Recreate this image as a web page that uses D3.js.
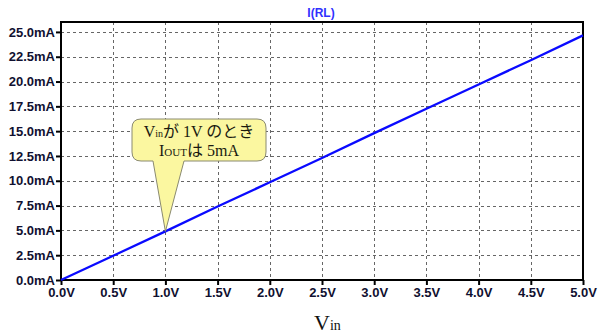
<!DOCTYPE html>
<html><head><meta charset="utf-8">
<script src="https://cdn.jsdelivr.net/npm/d3@7"></script>
<style>body{margin:0;background:#fff}svg{display:block}</style>
</head><body>
<svg id="c" width="600" height="336"></svg>
<script>
const vin = [0, 0.5, 1.0, 1.5, 2.0, 2.5, 3.0, 3.5, 4.0, 4.5, 5.0];
const iout = [0, 2.45, 4.9, 7.4, 9.85, 12.3, 14.8, 17.25, 19.7, 22.15, 24.65];
const yTicks = [0, 2.5, 5, 7.5, 10, 12.5, 15, 17.5, 20, 22.5, 25];
const xTicks = [0, 0.5, 1, 1.5, 2, 2.5, 3, 3.5, 4, 4.5, 5];
const title = "I(RL)";

const svg = d3.select("#c");
const L = 61, R = 583, T = 22, B = 280;
const x = d3.scaleLinear().domain([0, 5]).range([L, R]);
const y = d3.scaleLinear().domain([0, 26]).range([B, T]);

// grid
const g = svg.append("g");
g.selectAll(".vx").data(xTicks.slice(1, -1)).enter().append("line")
  .attr("x1", d => Math.round(x(d)) + 0.5).attr("x2", d => Math.round(x(d)) + 0.5)
  .attr("y1", T).attr("y2", B).attr("stroke", "#666").attr("stroke-dasharray", "3,3");
g.selectAll(".hy").data(yTicks.slice(1)).enter().append("line")
  .attr("y1", d => Math.round(y(d)) + 0.5).attr("y2", d => Math.round(y(d)) + 0.5)
  .attr("x1", L).attr("x2", R).attr("stroke", "#666").attr("stroke-dasharray", "3,3");

// axes
const xAxis = d3.axisBottom(x).tickValues(xTicks).tickFormat(d => d3.format(".1f")(d) + "V").tickSize(5).tickPadding(3);
const yAxis = d3.axisLeft(y).tickValues(yTicks).tickFormat(d => d3.format(".1f")(d) + "mA").tickSize(5).tickPadding(1);
const xa = svg.append("g").attr("transform", `translate(0,${B})`).call(xAxis);
const ya = svg.append("g").attr("transform", `translate(${L},0)`).call(yAxis);
[xa, ya].forEach(a => {
  a.select(".domain").remove();
  a.selectAll(".tick line").attr("stroke", "#000").attr("stroke-width", 2);
  a.selectAll("text").attr("fill", "#101030").style("font-family", "Arial, 'Liberation Sans', sans-serif")
    .style("font-size", "13px").style("font-weight", "bold");
});

// frame
svg.append("rect").attr("x", L).attr("y", T).attr("width", R - L).attr("height", B - T)
  .attr("fill", "none").attr("stroke", "#000").attr("stroke-width", 2);

// line
svg.append("path").datum(vin.map((v, i) => [v, iout[i]]))
  .attr("d", d3.line().x(d => x(d[0])).y(d => y(d[1])))
  .attr("fill", "none").attr("stroke", "#0a0aff").attr("stroke-width", 2.3);

// title
svg.append("text").attr("x", 321).attr("y", 17).attr("text-anchor", "middle")
  .attr("fill", "#3030ff").style("font-family", "Arial, 'Liberation Sans', sans-serif")
  .style("font-size", "12px").style("font-weight", "bold").text(title);

// x label
const xl = svg.append("text").attr("x", 314).attr("y", 330)
  .style("font-family", "'Liberation Serif', 'DejaVu Serif', serif").attr("fill", "#111");
xl.append("tspan").style("font-size", "22px").text("V");
xl.append("tspan").style("font-size", "14px").attr("dy", 0).text("in");

// callout
const tipX = x(1.0), tipY = y(iout[2]);
const bx = 132, by = 119, bw = 134, bh = 42, r = 9;
const p = d3.path();
p.moveTo(bx + r, by);
p.lineTo(bx + bw - r, by); p.quadraticCurveTo(bx + bw, by, bx + bw, by + r);
p.lineTo(bx + bw, by + bh - r); p.quadraticCurveTo(bx + bw, by + bh, bx + bw - r, by + bh);
p.lineTo(184, by + bh); p.lineTo(tipX, tipY); p.lineTo(153, by + bh);
p.lineTo(bx + r, by + bh); p.quadraticCurveTo(bx, by + bh, bx, by + bh - r);
p.lineTo(bx, by + r); p.quadraticCurveTo(bx, by, bx + r, by);
p.closePath();
svg.append("path").attr("d", p.toString()).attr("fill", "#fbf7a0").attr("stroke", "#8a8a70").attr("stroke-width", 1);

const font = "'Liberation Serif', 'Noto Sans CJK JP', serif";
const t1 = svg.append("text").attr("x", 199).attr("y", 137).attr("text-anchor", "middle")
  .style("font-family", font).style("font-size", "16px").attr("fill", "#1a1a10");
t1.append("tspan").text("V");
t1.append("tspan").style("font-size", "10px").text("in");
t1.append("tspan").text("が 1V のとき");
const t2 = svg.append("text").attr("x", 199).attr("y", 156).attr("text-anchor", "middle")
  .style("font-family", font).style("font-size", "16px").attr("fill", "#1a1a10");
t2.append("tspan").text("I");
t2.append("tspan").style("font-size", "11px").text("OUT");
t2.append("tspan").text("は 5mA");
</script>
</body></html>
